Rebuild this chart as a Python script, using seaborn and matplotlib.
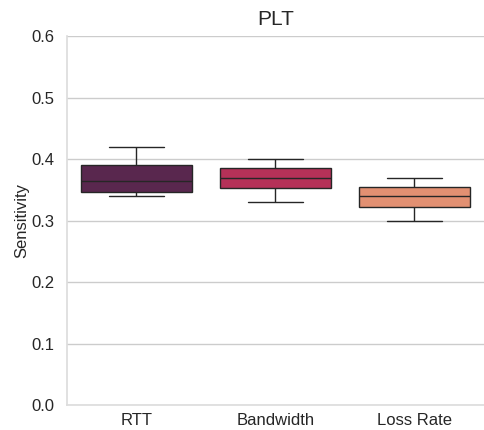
import matplotlib
matplotlib.use("Agg")
import matplotlib.pyplot as plt
import seaborn as sns
import pandas as pd

# five numbers per metric: min, q1, median, q3, max
categories = ["RTT", "Bandwidth", "Loss Rate"]
rtt = [0.340, 0.347, 0.365, 0.390, 0.420]
bandwidth = [0.330, 0.353, 0.369, 0.385, 0.400]
loss_rate = [0.300, 0.322, 0.340, 0.354, 0.370]

df = pd.DataFrame({
    "metric": [categories[0]] * len(rtt) + [categories[1]] * len(bandwidth) + [categories[2]] * len(loss_rate),
    "Sensitivity": rtt + bandwidth + loss_rate,
})

sns.set_theme(style="whitegrid")
plt.rcParams['font.family'] = ['Liberation Sans', 'DejaVu Sans']

fig, ax = plt.subplots(figsize=(4.84, 4.30), dpi=100)
sns.boxplot(data=df, x="metric", y="Sensitivity", hue="metric", palette="rocket",
            legend=False, ax=ax, linewidth=1)
ax.set_ylim(0, 0.6)
ax.set_yticks([0.0, 0.1, 0.2, 0.3, 0.4, 0.5, 0.6])
ax.set_xlabel("")
ax.set_ylabel("Sensitivity", fontsize=12, labelpad=1)
ax.set_title("PLT", fontsize=15, pad=8)
ax.tick_params(axis="x", labelsize=12, pad=0)
ax.tick_params(axis="y", labelsize=12, pad=3)
ax.xaxis.grid(False)
sns.despine(ax=ax)
for s in ["left", "bottom"]:
    ax.spines[s].set_color("#dddddd")
fig.subplots_adjust(left=0.138, right=1.0, top=0.916, bottom=0.058)
fig.savefig("out.png", dpi=100)
